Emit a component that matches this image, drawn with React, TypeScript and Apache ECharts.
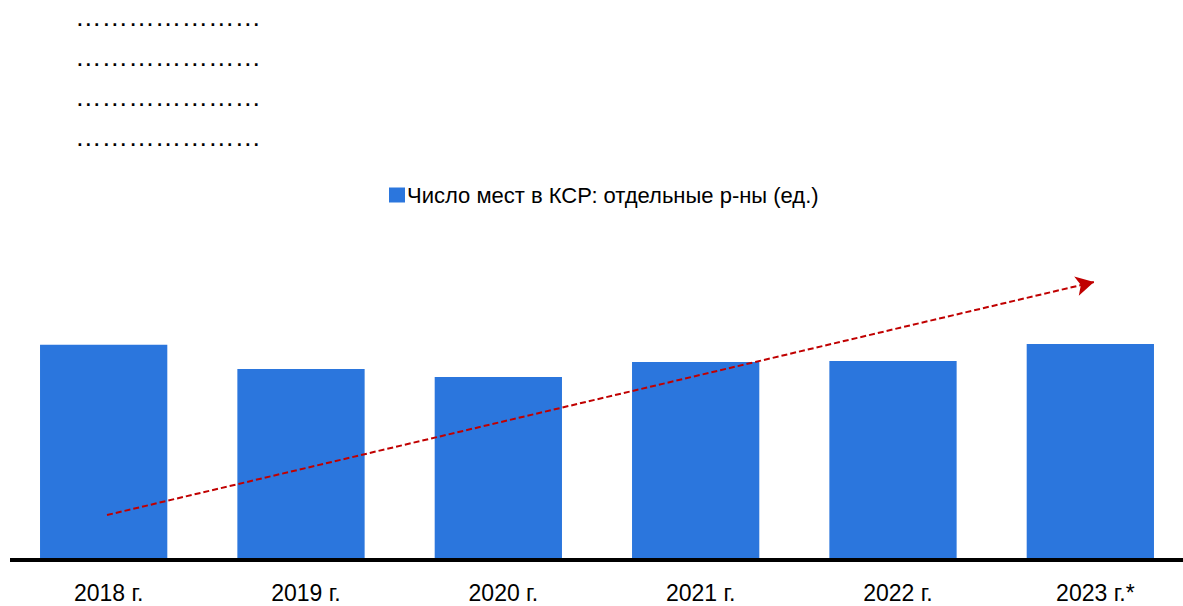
import React, { useEffect, useRef } from "react";
import * as echarts from "echarts";

const categories = ["2018 г.", "2019 г.", "2020 г.", "2021 г.", "2022 г.", "2023 г.*"];
const seatValues = [1000, 886, 849, 919, 924, 1003];
const seriesName = "Число мест в КСР: отдельные р-ны (ед.)";
const placeholderLines = ["…………………", "…………………", "…………………", "…………………"];

const FONT = "'Liberation Sans Narrow', 'Arial Narrow', 'Liberation Sans', Arial, sans-serif";
const BLUE = "#2B76DD";
const RED = "#C00000";

export default function App() {
  const ref = useRef<HTMLDivElement>(null);
  useEffect(() => {
    if (!ref.current) return;
    const chart = echarts.init(ref.current, undefined, { renderer: "svg" });
    chart.setOption({
      animation: false,
      backgroundColor: "#ffffff",
      legend: {
        data: [seriesName],
        left: 389,
        top: 184,
        padding: 0,
        itemWidth: 16,
        itemHeight: 15,
        itemGap: 4,
        icon: "rect",
        textStyle: { fontFamily: FONT, fontSize: 22, color: "#000", padding: [0, 0, 0, -3] },
      },
      grid: { left: 5, width: 1184, top: 238, bottom: 48, containLabel: false },
      xAxis: {
        type: "category",
        data: categories,
        axisLine: { show: false },
        axisTick: { show: false },
        axisLabel: {
          fontFamily: FONT,
          fontSize: 23,
          color: "#000",
          margin: 23,
          padding: [0, 0, 0, 10],
        },
      },
      yAxis: {
        type: "value",
        min: 0,
        max: 1500,
        show: false,
        splitLine: { show: false },
      },
      graphic: [
        ...placeholderLines.map((t, i) => ({
          type: "text",
          left: 75,
          top: 3 + i * 40,
          style: { text: t, fontSize: 26.6, fontFamily: "'Liberation Sans', Arial, sans-serif", fill: "#000" },
        })),
        {
          type: "line",
          shape: { x1: 10, y1: 560, x2: 1183, y2: 560 },
          style: { stroke: "#000", lineWidth: 4 },
        },
      ],
      series: [
        {
          name: seriesName,
          type: "bar",
          data: seatValues,
          barWidth: "64.5%",
          itemStyle: { color: BLUE },
          markLine: {
            silent: true,
            symbol: ["none", "arrow"],
            symbolSize: [15, 18],
            label: { show: false },
            lineStyle: { color: RED, type: [6, 3], width: 2 },
            data: [[{ x: 107, y: 515 }, { x: 1094, y: 282 }]],
          },
        },
      ],
    });
    return () => chart.dispose();
  }, []);
  return (
    <div
      style={{ position: "absolute", left: 0, top: 0, width: 1183, height: 606, overflow: "hidden" }}
    >
      <div ref={ref} style={{ width: 1195, height: 606 }} />
    </div>
  );
}
